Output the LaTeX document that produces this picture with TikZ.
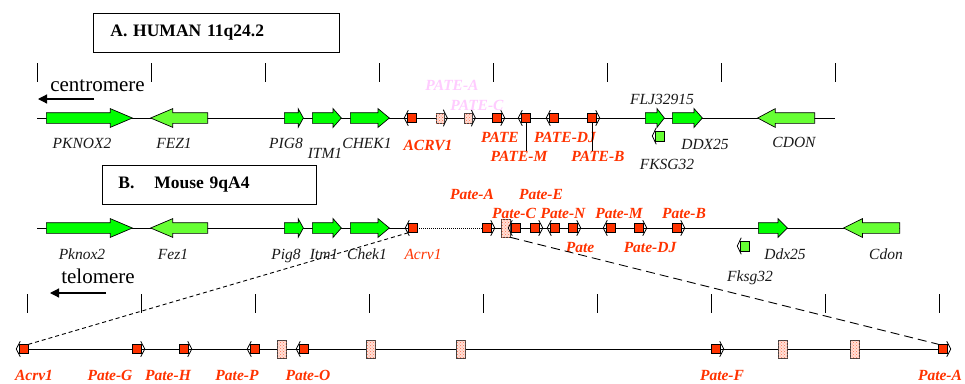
\documentclass[tikz,border=0pt]{standalone}
\usepackage{fontspec}
\setmainfont{Liberation Serif}
\usepackage{tikz}
\usetikzlibrary{arrows.meta,calc,positioning,shapes.arrows,patterns}

\definecolor{genegreen}{HTML}{00FF00}
\definecolor{palegreen}{HTML}{66FF33}
\definecolor{patered}{HTML}{FF3300}
\definecolor{patepink}{HTML}{FFCCFF}
\definecolor{boxpink}{HTML}{FFE0D8}

% small arrow caps on the gene markers
\newcommand{\tipR}[1]{\draw[tipline] ($(#1.north east)+(-1,-3)$) -- ($(#1.east)+(3,0)$) -- ($(#1.south east)+(-1,3)$);}
\newcommand{\tipL}[1]{\draw[tipline] ($(#1.north west)+(1,-3)$) -- ($(#1.west)+(-3,0)$) -- ($(#1.south west)+(1,3)$);}

\begin{document}
\begin{tikzpicture}[
			x=1pt, y=-1pt,
			>=Latex,
			chrom/.style={line width=1pt},
			tick/.style={line width=1pt},
			gene/.style={single arrow, draw, line width=0.7pt, inner xsep=0pt, inner ysep=5pt, minimum width=18pt, single arrow head extend=4pt, anchor=tail},
			fwd/.style={gene, fill=genegreen},
			rev/.style={gene, fill=palegreen, shape border rotate=180},
			redbox/.style={draw, line width=0.5pt, fill=patered, minimum size=9pt, inner sep=0pt},
			pinkbox/.style={draw=black!75, line width=0.6pt, fill=boxpink, minimum width=8pt, minimum height=10pt, inner sep=0pt, postaction={pattern=crosshatch dots, pattern color=patered!70}},
			tallbox/.style={pinkbox, minimum width=9pt, minimum height=18pt},
			smallgene/.style={draw, line width=0.5pt, fill=palegreen, minimum width=9pt, minimum height=10pt, inner sep=0pt},
			tipline/.style={line width=0.8pt},
			lbl/.style={font=\fontsize{15.5}{17}\selectfont\itshape, text=black!90, anchor=base, inner sep=0pt},
			patelbl/.style={lbl, font=\fontsize{15.5}{17}\selectfont\bfseries\itshape, text=patered},
			ghostlbl/.style={patelbl, text=patepink},
			title/.style={draw, line width=0.8pt, font=\fontsize{17.5}{20}\selectfont\bfseries, align=left, minimum height=39pt, anchor=west},
			dirtext/.style={font=\fontsize{21}{24}\selectfont, anchor=base, inner sep=0pt},
			dir/.style={line width=1.2pt, -{Triangle[length=9pt,width=9pt]}},
			zoomline/.style={line width=0.9pt}
			]
			\useasboundingbox (0,0) rectangle (965,383);
			
			% titles
			\node[title, text width=212pt, inner xsep=17pt] (titleA) at (93,32.5) {A. HUMAN 11q24.2};
			\node[title, text width=182pt, inner xsep=16pt] (titleB) at (102,184.5) {B.\hspace{0.8em} Mouse 9qA4};
			
			% scale ticks
			\foreach \k in {0,...,7}
			\draw[tick] (37+114*\k,63) -- (37+114*\k,82);
			\foreach \k in {0,...,8}
			\draw[tick] (27+114*\k,294) -- (27+114*\k,313);
			
			% orientation
			\node[dirtext] (cen) at (97.5,91) {centromere};
			\coordinate (cenS) at (94,99);
			\coordinate (cenE) at (38,99);
			\draw[dir] (cenS) -- (cenE);
			\node[dirtext] (tel) at (98,283) {telomere};
			\coordinate (telS) at (106,293);
			\coordinate (telE) at (50,293);
			\draw[dir] (telS) -- (telE);
			
			% chromosome lines
			\coordinate (startA) at (37,118);
			\coordinate (endA)   at (835,118);
			\coordinate (startB) at (37,228);
			\coordinate (endB)   at (900,228);
			\coordinate (startC) at (24,349);
			\coordinate (endC)   at (943,349);
			\draw[chrom] (startA) -- (endA);
			\draw[chrom] (startC) -- (endC);
			
			% A. human (placed by their tails)
			\node[fwd, minimum height=86, single arrow tip angle=46] (pknoxA) at (46,118) {};
			\node[rev, minimum height=57, single arrow tip angle=46] (fezA) at (208,118) {};
			\node[fwd, minimum height=19, single arrow tip angle=122] (pigA) at (284,118) {};
			\node[fwd, minimum height=29, single arrow tip angle=97] (itmA) at (312,118) {};
			\node[fwd, minimum height=39, single arrow tip angle=79] (chekA) at (350,118) {};
			\node[fwd, minimum height=19, single arrow tip angle=104] (fljA) at (645,118) {};
			\node[fwd, minimum height=30, single arrow tip angle=97] (ddxA) at (672,118) {};
			\node[rev, minimum height=57, single arrow tip angle=56] (cdonA) at (815,118) {};
			\node[smallgene] (fksgA) at (660,136) {};
			\tipL{fksgA}
			
			\node[redbox] (acrvA) at (412,118) {};
			\node[pinkbox] (paA) at (440,118) {};
			\node[pinkbox] (pcA) at (468,118) {};
			\node[redbox] (pateA) at (497,118) {};
			\node[redbox] (pmA) at (526,118) {};
			\node[redbox] (pdjA) at (554,118) {};
			\node[redbox] (pbA) at (592,118) {};
			\tipL{acrvA} \tipR{paA} \tipR{pcA} \tipR{pateA}
			\tipL{pmA} \tipL{pdjA} \tipR{pbA}
			
			\node[lbl] (pknoxAl) at (82,148) {PKNOX2};
			\node[lbl] (fezAl) at (174,148) {FEZ1};
			\node[lbl] (pigAl) at (286,148) {PIG8};
			\node[lbl] (itmAl) at (325,158) {ITM1};
			\node[lbl] (chekAl) at (367,148) {CHEK1};
			\node[lbl] (fljAl) at (662,104) {FLJ32915};
			\node[lbl] (fksgAl) at (667,169) {FKSG32};
			\node[lbl] (ddxAl) at (705,149) {DDX25};
			\node[lbl] (cdonAl) at (794,147) {CDON};
			\node[patelbl] (acrvAl) at (428,150) {ACRV1};
			\node[ghostlbl] (paAl) at (452,90) {PATE-A};
			\node[ghostlbl] (pcAl) at (477,110) {PATE-C};
			\node[patelbl] (pateAl) at (500,142) {PATE};
			\node[patelbl] (pdjAl) at (565,142) {PATE-DJ};
			\node[patelbl] (pmAl) at (519,161) {PATE-M};
			\node[patelbl] (pbAl) at (598,161) {PATE-B};
			\draw[tipline] (pmA.south) -- (pmA.south |- pmAl.north);
			\draw[tipline] (pbA.south) -- (pbA.south |- pbAl.north);
			
			% B. mouse
			\coordinate (dotS) at (413,228);
			\coordinate (dotE) at (487,228);
			\draw[chrom] (startB) -- (dotS);
			\draw[line width=0.8pt, dash pattern=on 1pt off 1pt] (dotS) -- (dotE);
			\draw[chrom] (dotE) -- (endB);
			
			\node[fwd, minimum height=86, single arrow tip angle=46] (pknoxB) at (46,228) {};
			\node[rev, minimum height=57, single arrow tip angle=46] (fezB) at (208,228) {};
			\node[fwd, minimum height=19, single arrow tip angle=122] (pigB) at (284,228) {};
			\node[fwd, minimum height=29, single arrow tip angle=97] (itmB) at (312,228) {};
			\node[fwd, minimum height=39, single arrow tip angle=79] (chekB) at (350,228) {};
			\node[fwd, minimum height=29, single arrow tip angle=90] (ddxB) at (758,228) {};
			\node[rev, minimum height=56, single arrow tip angle=53] (cdonB) at (900,228) {};
			\node[smallgene] (fksgB) at (745,246) {};
			\tipL{fksgB}
			
			\node[redbox] (acrvB) at (413,228) {};
			\node[redbox] (paB) at (487,228) {};
			\node[tallbox] (pkB) at (505.5,228) {};
			\node[redbox] (pcB) at (516,228) {};
			\node[redbox] (peB) at (535,228) {};
			\node[redbox] (pnB) at (555,228) {};
			\node[redbox] (pB) at (573,228) {};
			\node[redbox] (pmB) at (611,228) {};
			\node[redbox] (pdjB) at (639,228) {};
			\node[redbox] (pbB) at (677,228) {};
			\tipL{acrvB} \tipR{paB} \tipL{pcB} \tipR{peB} \tipL{pnB}
			\tipR{pB} \tipL{pmB} \tipR{pdjB} \tipR{pbB}
			
			\node[lbl] (pknoxBl) at (82,259) {Pknox2};
			\node[lbl] (fezBl) at (173,259) {Fez1};
			\node[lbl] (pigBl) at (286,259) {Pig8};
			\node[lbl] (itmBl) at (324,259) {Itm1};
			\node[lbl] (chekBl) at (367,259) {Chek1};
			\node[lbl, text=patered] (acrvBl) at (423,259) {Acrv1};
			\node[lbl] (ddxBl) at (785,259) {Ddx25};
			\node[lbl] (cdonBl) at (886,259) {Cdon};
			\node[lbl] (fksgBl) at (750,281) {Fksg32};
			\node[patelbl] (paBl) at (472,199) {Pate-A};
			\node[patelbl] (peBl) at (541,199) {Pate-E};
			\node[patelbl] (pcBl) at (514,218) {Pate-C};
			\node[patelbl] (pnBl) at (563,218) {Pate-N};
			\node[patelbl] (pmBl) at (619,218) {Pate-M};
			\node[patelbl] (pbBl) at (684,218) {Pate-B};
			\node[patelbl] (pBl) at (580,252) {Pate};
			\node[patelbl] (pdjBl) at (650,252) {Pate-DJ};
			
			% C. expanded mouse cluster
			\foreach \x in {282,371,461,783,855}
			\node[tallbox] (pk\x) at (\x,349) {};
			\node[redbox] (acrvC) at (24,349) {};
			\node[redbox] (pgC) at (137,349) {};
			\node[redbox] (phC) at (184,349) {};
			\node[redbox] (ppC) at (255,349) {};
			\node[redbox] (poC) at (304,349) {};
			\node[redbox] (pfC) at (716,349) {};
			\node[redbox] (paC) at (943,349) {};
			\tipL{acrvC} \tipR{pgC} \tipR{phC} \tipL{ppC}
			\tipL{poC} \tipR{pfC} \tipR{paC}
			
			\node[patelbl] (acrvCl) at (34,380) {Acrv1};
			\node[patelbl] (pgCl) at (110,380) {Pate-G};
			\node[patelbl] (phCl) at (168,380) {Pate-H};
			\node[patelbl] (ppCl) at (237,380) {Pate-P};
			\node[patelbl] (poCl) at (308,380) {Pate-O};
			\node[patelbl] (pfCl) at (722,380) {Pate-F};
			\node[patelbl] (paCl) at (940,380) {Pate-A};
			
			% zoom lines
			\draw[zoomline, dash pattern=on 4pt off 3pt] (acrvB.south west) -- (acrvC.north east);
			\draw[zoomline, dash pattern=on 9pt off 5pt] (pkB.south east) -- (paC.north west);
		\end{tikzpicture}
\end{document}
